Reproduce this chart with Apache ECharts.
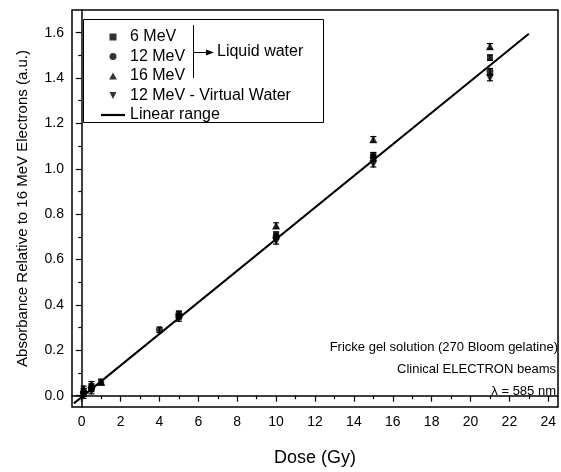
<!DOCTYPE html>
<html>
<head>
<meta charset="utf-8">
<script src="https://cdn.jsdelivr.net/npm/echarts@6/dist/echarts.min.js"></script>
<style>
  html, body { margin: 0; padding: 0; background: #fff; }
  #chart { width: 561px; height: 472px; }
</style>
</head>
<body>
<div id="chart"></div>
<script>
  // doses (Gy) and relative absorbance
  var dose6 = [0.1, 0.5, 1, 5, 10, 15, 21];
  var abs6 = [0.02, 0.04, 0.06, 0.35, 0.71, 1.06, 1.49];
  var dose12 = [0.1, 0.5, 4, 5, 10, 15, 21];
  var abs12 = [0.01, 0.03, 0.29, 0.36, 0.70, 1.05, 1.43];
  var dose16 = [0.1, 0.5, 1, 5, 10, 15, 21];
  var abs16 = [0.03, 0.05, 0.06, 0.36, 0.75, 1.13, 1.54];
  var doseVW = [0.1, 0.5, 5, 10, 15, 21];
  var absVW = [0.0, 0.02, 0.34, 0.68, 1.02, 1.40];
  var errAbs = 0.012;

  var lineDose = [-0.4, 23];
  var lineAbs = [-0.034, 1.595];

  var xTicks = [0, 2, 4, 6, 8, 10, 12, 14, 16, 18, 20, 22, 24];
  var xMinor = [1, 3, 5, 7, 9, 11, 13, 15, 17, 19, 21, 23];
  var yTicks = [0, 0.2, 0.4, 0.6, 0.8, 1.0, 1.2, 1.4, 1.6];
  var yMinor = [0.1, 0.3, 0.5, 0.7, 0.9, 1.1, 1.3, 1.5];

  function pairs(xs, ys) {
    return xs.map(function (x, i) { return [x, ys[i]]; });
  }

  var allPts = pairs(dose6, abs6).concat(pairs(dose12, abs12), pairs(dose16, abs16), pairs(doseVW, absVW));

  var downTri = 'path://M0,0 L10,0 L5,10 Z';
  var font = 'Liberation Sans, Arial, sans-serif';
  var myChart = echarts.init(document.getElementById('chart'));
  var option = {
    backgroundColor: '#fff',
    animation: false,
    textStyle: { fontFamily: font, color: '#000' },
    grid: {
      left: 72, right: 3, top: 10, bottom: 65,
      show: true, borderColor: '#000', borderWidth: 1.5
    },
    xAxis: [{
      type: 'value', min: -0.5, max: 24.5,
      name: 'Dose (Gy)', nameLocation: 'middle', nameGap: 42,
      nameTextStyle: { fontSize: 18, color: '#000', fontFamily: font },
      axisLine: { lineStyle: { color: '#000', width: 1.5 } },
      axisTick: { inside: false, length: 6, lineStyle: { color: '#000', width: 1.2 }, customValues: xTicks },
      axisLabel: { fontSize: 14, color: '#000', margin: 8, customValues: xTicks },
      splitLine: { show: false }
    }, {
      type: 'value', min: -0.5, max: 24.5, position: 'bottom',
      axisLine: { show: false },
      axisTick: { inside: false, length: 3.5, lineStyle: { color: '#000', width: 1.2 }, customValues: xMinor },
      axisLabel: { show: false },
      splitLine: { show: false }
    }],
    yAxis: [{
      type: 'value', min: -0.05, max: 1.7,
      name: 'Absorbance Relative to 16 MeV Electrons (a.u.)', nameLocation: 'middle', nameGap: 42,
      nameTextStyle: { fontSize: 15, color: '#000', fontFamily: font },
      axisLine: { lineStyle: { color: '#000', width: 1.5 } },
      axisTick: { inside: false, length: 6, lineStyle: { color: '#000', width: 1.2 }, customValues: yTicks },
      axisLabel: {
        fontSize: 14, color: '#000', margin: 8, customValues: yTicks,
        formatter: function (v) { return v.toFixed(1); }
      },
      splitLine: { show: false }
    }, {
      type: 'value', min: -0.05, max: 1.7, position: 'left',
      axisLine: { show: false },
      axisTick: { inside: false, length: 3.5, lineStyle: { color: '#000', width: 1.2 }, customValues: yMinor },
      axisLabel: { show: false },
      splitLine: { show: false }
    }],
    legend: {
      orient: 'vertical', left: 96, top: 24,
      itemWidth: 24, itemHeight: 7, itemGap: 3.5,
      textStyle: { fontSize: 16, color: '#000', fontFamily: font, lineHeight: 16 },
      data: [
        { name: '6 MeV', icon: 'path://M0,0 L10,0 L10,10 L0,10 Z' },
        { name: '12 MeV', icon: 'circle' },
        { name: '16 MeV', icon: 'path://M5,0 L10,9 L0,9 Z' },
        { name: '12 MeV - Virtual Water', icon: downTri },
        { name: 'Linear range', icon: 'path://M0,0 L22,0 L22,2 L0,2 Z' }
      ]
    },
    graphic: [
      { type: 'rect', shape: { x: 83.5, y: 19.5, width: 240, height: 103 },
        style: { fill: null, stroke: '#000', lineWidth: 1 }, z: 0 },
      { type: 'line', shape: { x1: 193.5, y1: 25, x2: 193.5, y2: 78 }, style: { stroke: '#000', lineWidth: 1 } },
      { type: 'line', shape: { x1: 193.5, y1: 52.5, x2: 208, y2: 52.5 }, style: { stroke: '#000', lineWidth: 1 } },
      { type: 'polygon', shape: { points: [[214, 52.5], [206, 49.5], [206, 55.5]] }, style: { fill: '#000' } },
      { type: 'text', x: 217, y: 52, style: { text: 'Liquid water', fontSize: 16, fontFamily: font, fill: '#000', verticalAlign: 'middle' } },
      { type: 'text', right: 3, top: 341, style: { text: 'Fricke gel solution (270 Bloom gelatine)', fontSize: 13, fontFamily: font, fill: '#000', align: 'right' } },
      { type: 'text', right: 5, top: 363, style: { text: 'Clinical ELECTRON beams', fontSize: 13, fontFamily: font, fill: '#000', align: 'right' } },
      { type: 'text', right: 5, top: 385, style: { text: 'λ = 585 nm', fontSize: 13, fontFamily: font, fill: '#000', align: 'right' } }
    ],
    series: [
      {
        name: 'Linear range', type: 'line', data: pairs(lineDose, lineAbs),
        symbol: 'none', lineStyle: { color: '#000', width: 2 }, itemStyle: { color: '#000' }, z: 2
      },
      {
        name: 'errors', type: 'custom', data: allPts, z: 3,
        renderItem: function (params, api) {
          var x = api.value(0), y = api.value(1);
          var top = api.coord([x, y + errAbs]);
          var bot = api.coord([x, y - errAbs]);
          var w = 3;
          var st = { stroke: '#000', lineWidth: 1.2 };
          return {
            type: 'group',
            children: [
              { type: 'line', shape: { x1: top[0], y1: top[1], x2: bot[0], y2: bot[1] }, style: st },
              { type: 'line', shape: { x1: top[0] - w, y1: top[1], x2: top[0] + w, y2: top[1] }, style: st },
              { type: 'line', shape: { x1: bot[0] - w, y1: bot[1], x2: bot[0] + w, y2: bot[1] }, style: st }
            ]
          };
        }
      },
      { name: '6 MeV', type: 'scatter', data: pairs(dose6, abs6), symbol: 'rect', symbolSize: 6, itemStyle: { color: '#000' }, z: 4 },
      { name: '12 MeV', type: 'scatter', data: pairs(dose12, abs12), symbol: 'circle', symbolSize: 7, itemStyle: { color: '#000' }, z: 4 },
      { name: '16 MeV', type: 'scatter', data: pairs(dose16, abs16), symbol: 'triangle', symbolSize: 8, itemStyle: { color: '#000' }, z: 4 },
      { name: '12 MeV - Virtual Water', type: 'scatter', data: pairs(doseVW, absVW), symbol: downTri, symbolSize: 8, itemStyle: { color: '#000' }, z: 4 }
    ]
  };
  myChart.setOption(option, true);
</script>
</body>
</html>
